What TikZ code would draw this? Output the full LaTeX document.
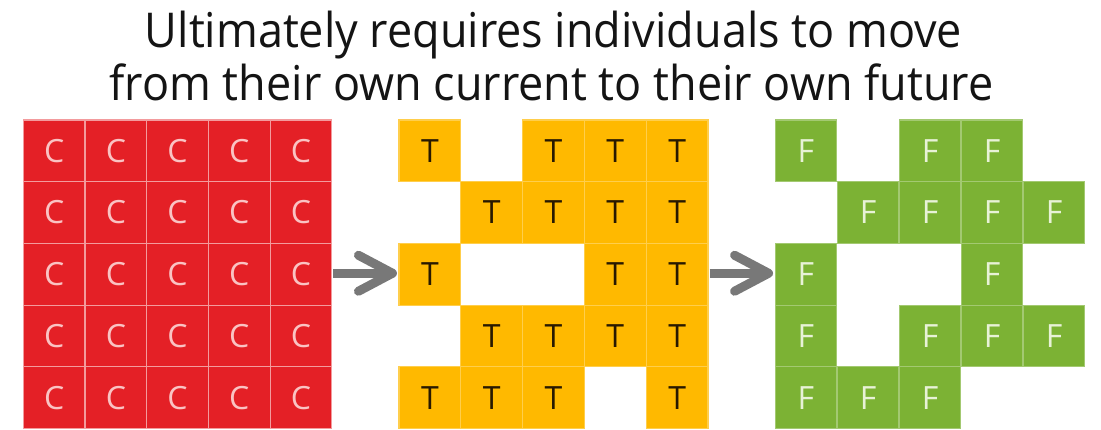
\documentclass[tikz,border=0pt]{standalone}
\usepackage{fontspec}
\setmainfont{Open Sans}
\newfontfamily\titlefont[FakeStretch=0.937]{Open Sans}
\newfontfamily\cellfont{Open Sans}
\usetikzlibrary{calc}
\definecolor{cred}{RGB}{228,32,38}
\definecolor{cyel}{RGB}{255,185,0}
\definecolor{cgrn}{RGB}{124,178,52}
\definecolor{arrgray}{RGB}{120,120,120}
\definecolor{ctext}{RGB}{250,195,195}
\definecolor{ttext}{RGB}{40,25,0}
\definecolor{ftext}{RGB}{232,242,215}
\tikzset{
  cell/.style={minimum width=61.7pt, minimum height=61.7pt, inner sep=0pt, line width=1.2pt,
    font=\cellfont\fontsize{32}{32}\selectfont},
  redcell/.style={cell, fill=cred, draw=white!55!cred, text=ctext},
  yelcell/.style={cell, fill=cyel, draw=white!30!cyel, text=ttext},
  grncell/.style={cell, fill=cgrn, draw=white!30!cgrn, text=ftext},
  arrshaft/.style={draw=arrgray, line width=9pt},
  arrhead/.style={draw=arrgray, line width=9pt, line cap=round, line join=round},
  title/.style={anchor=base, inner sep=0pt, text=black!92, font=\titlefont\fontsize{48}{48}\selectfont}
}
\begin{document}
\begin{tikzpicture}[x=1pt,y=-1pt]
\useasboundingbox[fill=white] (0,0) rectangle (1101,429);
% title
\node[title] (t1) at (553.5,47) {Ultimately requires individuals to move};
\node[title] (t2) at (551.5,100) {from their own current to their own future};
% red grid
\foreach \r in {1,...,5}{
  \foreach \c in {1,...,5}{
    \node[redcell] (r\r\c) at ({23.3+61.7*(\c-0.5)},{120+61.7*(\r-0.5)}) {C};
  }
}
% yellow grid
\foreach \r/\c in {1/1,1/3,1/4,1/5, 2/2,2/3,2/4,2/5, 3/1,3/4,3/5, 4/2,4/3,4/4,4/5, 5/1,5/2,5/3,5/5}{
  \node[yelcell] (y\r\c) at ({399+61.8*(\c-0.5)},{120+61.7*(\r-0.5)}) {T};
}
% green grid
\foreach \r/\c in {1/1,1/3,1/4, 2/2,2/3,2/4,2/5, 3/1,3/4, 4/1,4/3,4/4,4/5, 5/1,5/2,5/3}{
  \node[grncell] (g\r\c) at ({775+62*(\c-0.5)},{120+61.7*(\r-0.5)}) {F};
}
% arrows
\coordinate (a1s) at ($(r35.east)+(1,-1)$);
\coordinate (a1e) at ($(y31.west)+(-6,-1)$);
\draw[arrshaft] (a1s) -- (a1e);
\draw[arrhead] ($(a1e)+(-34,-18)$) -- (a1e) -- ($(a1e)+(-34,18)$);
\coordinate (a2s) at ($(y35.east)+(1,-1)$);
\coordinate (a2e) at ($(g31.west)+(-6,-1)$);
\draw[arrshaft] (a2s) -- (a2e);
\draw[arrhead] ($(a2e)+(-34,-18)$) -- (a2e) -- ($(a2e)+(-34,18)$);
\end{tikzpicture}
\end{document}
